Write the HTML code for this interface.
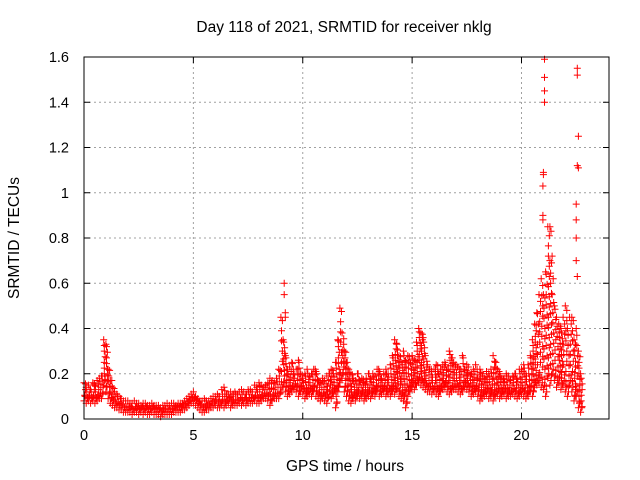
<!DOCTYPE html>
<html><head><meta charset="utf-8"><style>
html,body{margin:0;padding:0;background:#fff;}
svg{display:block;font-family:"Liberation Sans",sans-serif;}
</style></head><body>
<svg id="chart" width="640" height="480">
<rect width="640" height="480" fill="#fff"/>
<text x="344" y="32" text-anchor="middle" font-size="15.5">Day 118 of 2021, SRMTID for receiver nklg</text>
<text transform="translate(19,238) rotate(-90)" text-anchor="middle" font-size="15.5">SRMTID / TECUs</text>
<text x="345" y="471" text-anchor="middle" font-size="15.5">GPS time / hours</text>
<g id="grid"></g><g id="marks"></g><g id="axes"></g>
</svg>
<script>
const xTicks=[0,5,10,15,20];
const yTicks=[0,0.2,0.4,0.6,0.8,1,1.2,1.4,1.6];
const yTickLabels=["0","0.2","0.4","0.6","0.8","1","1.2","1.4","1.6"];
const lo=[0.08,0.07,0.08,0.07,0.08,0.07,0.08,0.09,0.09,0.15,
0.12,0.09,0.07,0.06,0.05,0.05,0.04,0.04,0.03,0.03,
0.03,0.03,0.02,0.03,0.03,0.02,0.03,0.02,0.03,0.02,
0.02,0.03,0.02,0.02,0.02,0.01,0.02,0.02,0.02,0.02,
0.02,0.03,0.03,0.03,0.03,0.04,0.04,0.05,0.06,0.07,
0.07,0.06,0.05,0.04,0.03,0.03,0.04,0.04,0.05,0.05,
0.06,0.05,0.05,0.06,0.05,0.06,0.07,0.05,0.06,0.06,
0.06,0.07,0.06,0.07,0.06,0.07,0.07,0.07,0.08,0.07,
0.07,0.08,0.09,0.09,0.08,0.06,0.08,0.09,0.09,0.09,
0.12,0.14,0.12,0.10,0.11,0.12,0.13,0.12,0.10,0.12,
0.11,0.09,0.10,0.11,0.10,0.12,0.10,0.09,0.08,0.09,
0.08,0.07,0.10,0.09,0.11,0.05,0.12,0.16,0.18,0.12,
0.10,0.08,0.07,0.09,0.08,0.10,0.09,0.10,0.08,0.09,
0.10,0.09,0.11,0.10,0.12,0.10,0.11,0.12,0.10,0.11,
0.10,0.12,0.11,0.13,0.10,0.09,0.08,0.05,0.10,0.12,
0.14,0.13,0.15,0.16,0.15,0.14,0.13,0.12,0.12,0.11,
0.12,0.11,0.10,0.12,0.13,0.14,0.12,0.11,0.12,0.13,
0.13,0.12,0.11,0.12,0.14,0.13,0.12,0.10,0.11,0.12,
0.10,0.08,0.09,0.10,0.11,0.09,0.10,0.08,0.10,0.11,
0.09,0.10,0.11,0.09,0.10,0.10,0.11,0.10,0.09,0.10,
0.11,0.10,0.09,0.10,0.12,0.10,0.14,0.15,0.16,0.14,
0.13,0.10,0.18,0.15,0.20,0.17,0.14,0.16,0.13,0.15,
0.12,0.10,0.15,0.12,0.08,0.10,0.05,0.03];
const hi=[0.16,0.14,0.15,0.13,0.16,0.15,0.17,0.18,0.19,0.35,
0.33,0.22,0.17,0.14,0.12,0.11,0.10,0.09,0.08,0.08,
0.08,0.07,0.07,0.08,0.07,0.07,0.06,0.07,0.07,0.06,
0.06,0.07,0.06,0.06,0.06,0.05,0.06,0.06,0.07,0.06,
0.07,0.07,0.06,0.07,0.07,0.07,0.08,0.09,0.10,0.11,
0.12,0.10,0.09,0.08,0.08,0.09,0.08,0.08,0.09,0.10,
0.10,0.11,0.10,0.13,0.14,0.11,0.11,0.12,0.11,0.12,
0.11,0.12,0.13,0.12,0.11,0.13,0.13,0.12,0.15,0.14,
0.16,0.15,0.14,0.15,0.16,0.18,0.17,0.16,0.18,0.22,
0.45,0.35,0.28,0.22,0.23,0.25,0.20,0.22,0.26,0.20,
0.18,0.20,0.22,0.19,0.20,0.22,0.21,0.17,0.16,0.18,
0.17,0.19,0.20,0.22,0.20,0.25,0.35,0.49,0.38,0.30,
0.25,0.22,0.20,0.18,0.17,0.20,0.17,0.18,0.16,0.18,
0.20,0.18,0.20,0.19,0.22,0.21,0.18,0.20,0.22,0.20,
0.24,0.28,0.35,0.33,0.28,0.25,0.30,0.26,0.28,0.25,
0.28,0.26,0.34,0.40,0.38,0.36,0.28,0.24,0.22,0.21,
0.22,0.24,0.20,0.22,0.24,0.25,0.22,0.30,0.27,0.25,
0.24,0.23,0.22,0.28,0.22,0.24,0.20,0.20,0.22,0.24,
0.18,0.22,0.20,0.18,0.21,0.20,0.22,0.28,0.25,0.22,
0.20,0.18,0.18,0.20,0.19,0.17,0.19,0.20,0.18,0.22,
0.22,0.24,0.20,0.24,0.28,0.35,0.42,0.47,0.55,0.62,
0.55,0.65,0.85,0.70,0.55,0.50,0.45,0.42,0.40,0.45,
0.50,0.40,0.45,0.45,0.35,0.40,0.30,0.20];
const spikeT=[9.15,9.15,9.2,9.2,21.05,21.05,21.05,21.05,21.0,21.0,20.98,20.98,20.98,22.55,22.55,22.6,22.6,22.55,22.5,22.5,22.5,22.5,22.55,21.3,21.35,21.4,21.45];
const spikeV=[0.60,0.55,0.47,0.45,1.59,1.51,1.45,1.40,1.09,1.08,1.03,0.90,0.88,1.55,1.52,1.25,1.11,1.12,0.95,0.88,0.80,0.70,0.63,0.85,0.83,0.72,0.62];
const NS="http://www.w3.org/2000/svg";
const L=84,R=609,T=57,B=419;
const xs=t=>L+(t/24)*(R-L);
const ys=v=>B-(v/1.6)*(B-T);
function mk(tag,at,parent){const e=document.createElementNS(NS,tag);for(const k in at)e.setAttribute(k,at[k]);parent.appendChild(e);return e;}
const grid=document.getElementById('grid'),marks=document.getElementById('marks'),axes=document.getElementById('axes');
xTicks.forEach(t=>{const x=xs(t);
 if(t>0){const g=mk('line',{x1:x,y1:T,x2:x,y2:B,stroke:'#a0a0a0','stroke-dasharray':'2,3'},grid);
 
 }
 mk('line',{x1:x,y1:B,x2:x,y2:B-6,stroke:'#000'},axes);
 mk('line',{x1:x,y1:T,x2:x,y2:T+6,stroke:'#000'},axes);
 const tx=mk('text',{x:x,y:B+21,'text-anchor':'middle','font-size':'14.5'},axes);tx.textContent=String(t);
 
 
});
yTicks.forEach((v,i)=>{const y=ys(v);
 if(v>0&&v<1.6){const g=mk('line',{x1:L,y1:y,x2:R,y2:y,stroke:'#a0a0a0','stroke-dasharray':'2,3'},grid);
 
 }
 mk('line',{x1:L,y1:y,x2:L+6,y2:y,stroke:'#000'},axes);
 mk('line',{x1:R,y1:y,x2:R-6,y2:y,stroke:'#000'},axes);
 const tx=mk('text',{x:L-15,y:y+5,'text-anchor':'end','font-size':'14.5'},axes);tx.textContent=yTickLabels[i];
 
 
});
const frame=mk('rect',{x:L,y:T,width:R-L,height:B-T,fill:'none',stroke:'#000'},axes);


let d='';
function plus(t,v){const x=xs(t),y=ys(v);d+=`M${(x-3.5).toFixed(1)} ${y.toFixed(1)}h7M${x.toFixed(1)} ${(y-3.5).toFixed(1)}v7`;}
lo.forEach((l,i)=>{const t=i*0.1,h=hi[i];
 plus(t,l);plus(t+0.05,l+0.02<h?l+0.02:l);
 const step=(h-l)>0.3?0.045:0.025;
 for(let v=l+step;v<h;v+=step)plus(t+((v*100)%2<1?0.03:0.07),v);
 plus(t,h);
});
spikeT.forEach((t,i)=>plus(t,spikeV[i]));
const p=mk('path',{d:d,stroke:'#ff0000','stroke-width':'1',fill:'none'},marks);


</script>
</body></html>
